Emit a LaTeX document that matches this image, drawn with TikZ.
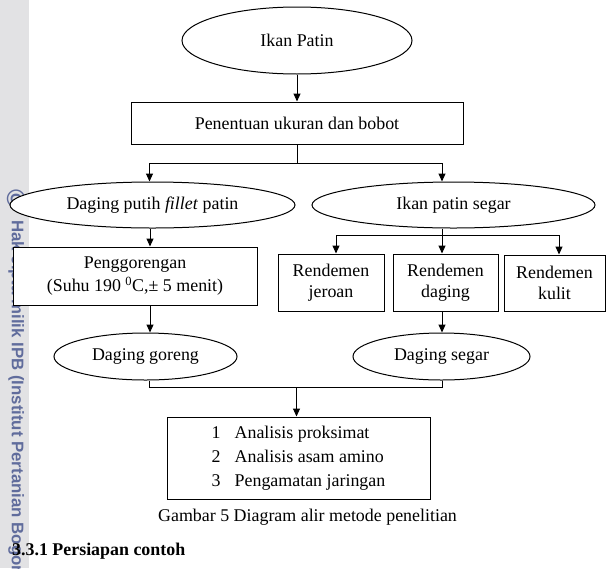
\documentclass[tikz,border=0pt]{standalone}
\usepackage{fontspec}
\setmainfont{Liberation Serif}
\newfontfamily\wmfont{Liberation Sans}
\usetikzlibrary{arrows.meta,shapes.geometric}
\definecolor{wmgray}{RGB}{226,226,228}
\definecolor{wmblue}{RGB}{96,108,156}
\begin{document}
\begin{tikzpicture}[x=1pt,y=1pt,
  every node/.style={font=\fontsize{17.9}{23}\selectfont, inner sep=0pt},
  ell/.style={draw, ellipse, fill=white, line width=1pt},
  box/.style={draw, rectangle, fill=white, line width=1pt, align=center},
  rbox/.style={box, font=\fontsize{17.9}{20.5}\selectfont},
  conn/.style={line width=1pt},
  arr/.style={conn, -{Triangle[length=8pt,width=7pt]}},
  wm/.style={font=\wmfont\bfseries\fontsize{16.8}{20}\selectfont, text=wmblue, rotate=-90}
]
\useasboundingbox (0,0) rectangle (609,-568);
\fill[white] (0,0) rectangle (609,-568);
\begin{scope}
\clip (0,0) rectangle (609,-568);
\fill[wmgray] (0,0) rectangle (29,-568);
\node[wm, anchor=base west] (wmtext) at (12,-220) {Hak cipta milik IPB (Institut Pertanian Bogor)};
\node[wm, font=\wmfont\bfseries\fontsize{26}{26}\selectfont] (wmc) at (16,-199) {©};
\end{scope}

\node[ell, minimum width=230pt, minimum height=67pt] (ikan) at (297,-40.5) {Ikan Patin};
\node[box, minimum width=332pt, minimum height=42pt] (tentu) at (297,-123) {Penentuan ukuran dan bobot};
\node[ell, minimum width=285pt, minimum height=46pt] (putih) at (152.5,-205) {Daging putih \textit{fillet} patin};
\node[ell, minimum width=283pt, minimum height=46pt] (segar) at (453.5,-205) {Ikan patin segar};
\node[box, minimum width=244pt, minimum height=58pt] (goreng) at (135,-276) {Penggorengan\\(Suhu 190 \textsuperscript{0}C,± 5 menit)};
\node[rbox, minimum width=106pt, minimum height=57pt] (jeroan) at (331,-282.5) {Rendemen\\jeroan};
\node[rbox, minimum width=105pt, minimum height=57pt] (rdaging) at (445.5,-282.5) {Rendemen\\daging};
\node[rbox, minimum width=101pt, minimum height=56pt] (kulit) at (554.5,-283) {Rendemen\\kulit};
\node[ell, minimum width=183pt, minimum height=47pt] (dgoreng) at (145.5,-356.5) {Daging goreng};
\node[ell, minimum width=177pt, minimum height=47pt] (dsegar) at (441.5,-356.5) {Daging segar};
\node[box, minimum width=263pt, minimum height=82pt] (anal) at (298.5,-458) {\fontsize{17.9}{24}\selectfont\begin{tabular}{@{}l@{\hspace{14pt}}l@{}}1&Analisis proksimat\\2&Analisis asam amino\\3&Pengamatan jaringan\end{tabular}};

\node[anchor=base] (cap) at (307.5,-521) {Gambar 5 Diagram alir metode penelitian};
\node[anchor=base west, font=\bfseries\fontsize{17.9}{23}\selectfont] (head) at (12,-555) {3.3.1 Persiapan contoh};

% connectors
\draw[arr] (ikan.south) -- (tentu.north);
\coordinate (s1) at ([yshift=-19pt]tentu.south);
\draw[conn] (tentu.south) -- (s1);
\draw[arr] (s1) -| ([xshift=-3pt]putih.north);
\draw[arr] (s1) -| ([xshift=-11.5pt]segar.north);
\draw[arr] ([xshift=-2.5pt]putih.south) -- ([xshift=15pt]goreng.north);
\draw[arr] ([xshift=15pt]goreng.south) -- ([xshift=4.5pt]dgoreng.north);

\coordinate (s2) at ([xshift=-11.5pt,yshift=-7pt]segar.south);
\draw[conn] ([xshift=-11.5pt]segar.south) -- (s2);
\draw[arr] (s2) -| ([xshift=5pt]jeroan.north);
\draw[arr] (s2) -- ([xshift=-3.5pt]rdaging.north);
\draw[arr] (s2) -| ([xshift=4.5pt]kulit.north);
\draw[arr] ([xshift=-3.5pt]rdaging.south) -- ([xshift=0.5pt]dsegar.north);

\coordinate (s3) at ([xshift=-2pt,yshift=29pt]anal.north);
\draw[conn] ([xshift=3.5pt]dgoreng.south) |- (s3);
\draw[conn] ([xshift=0.5pt]dsegar.south) |- (s3);
\draw[arr] (s3) -- ([xshift=-2pt]anal.north);
\end{tikzpicture}
\end{document}
